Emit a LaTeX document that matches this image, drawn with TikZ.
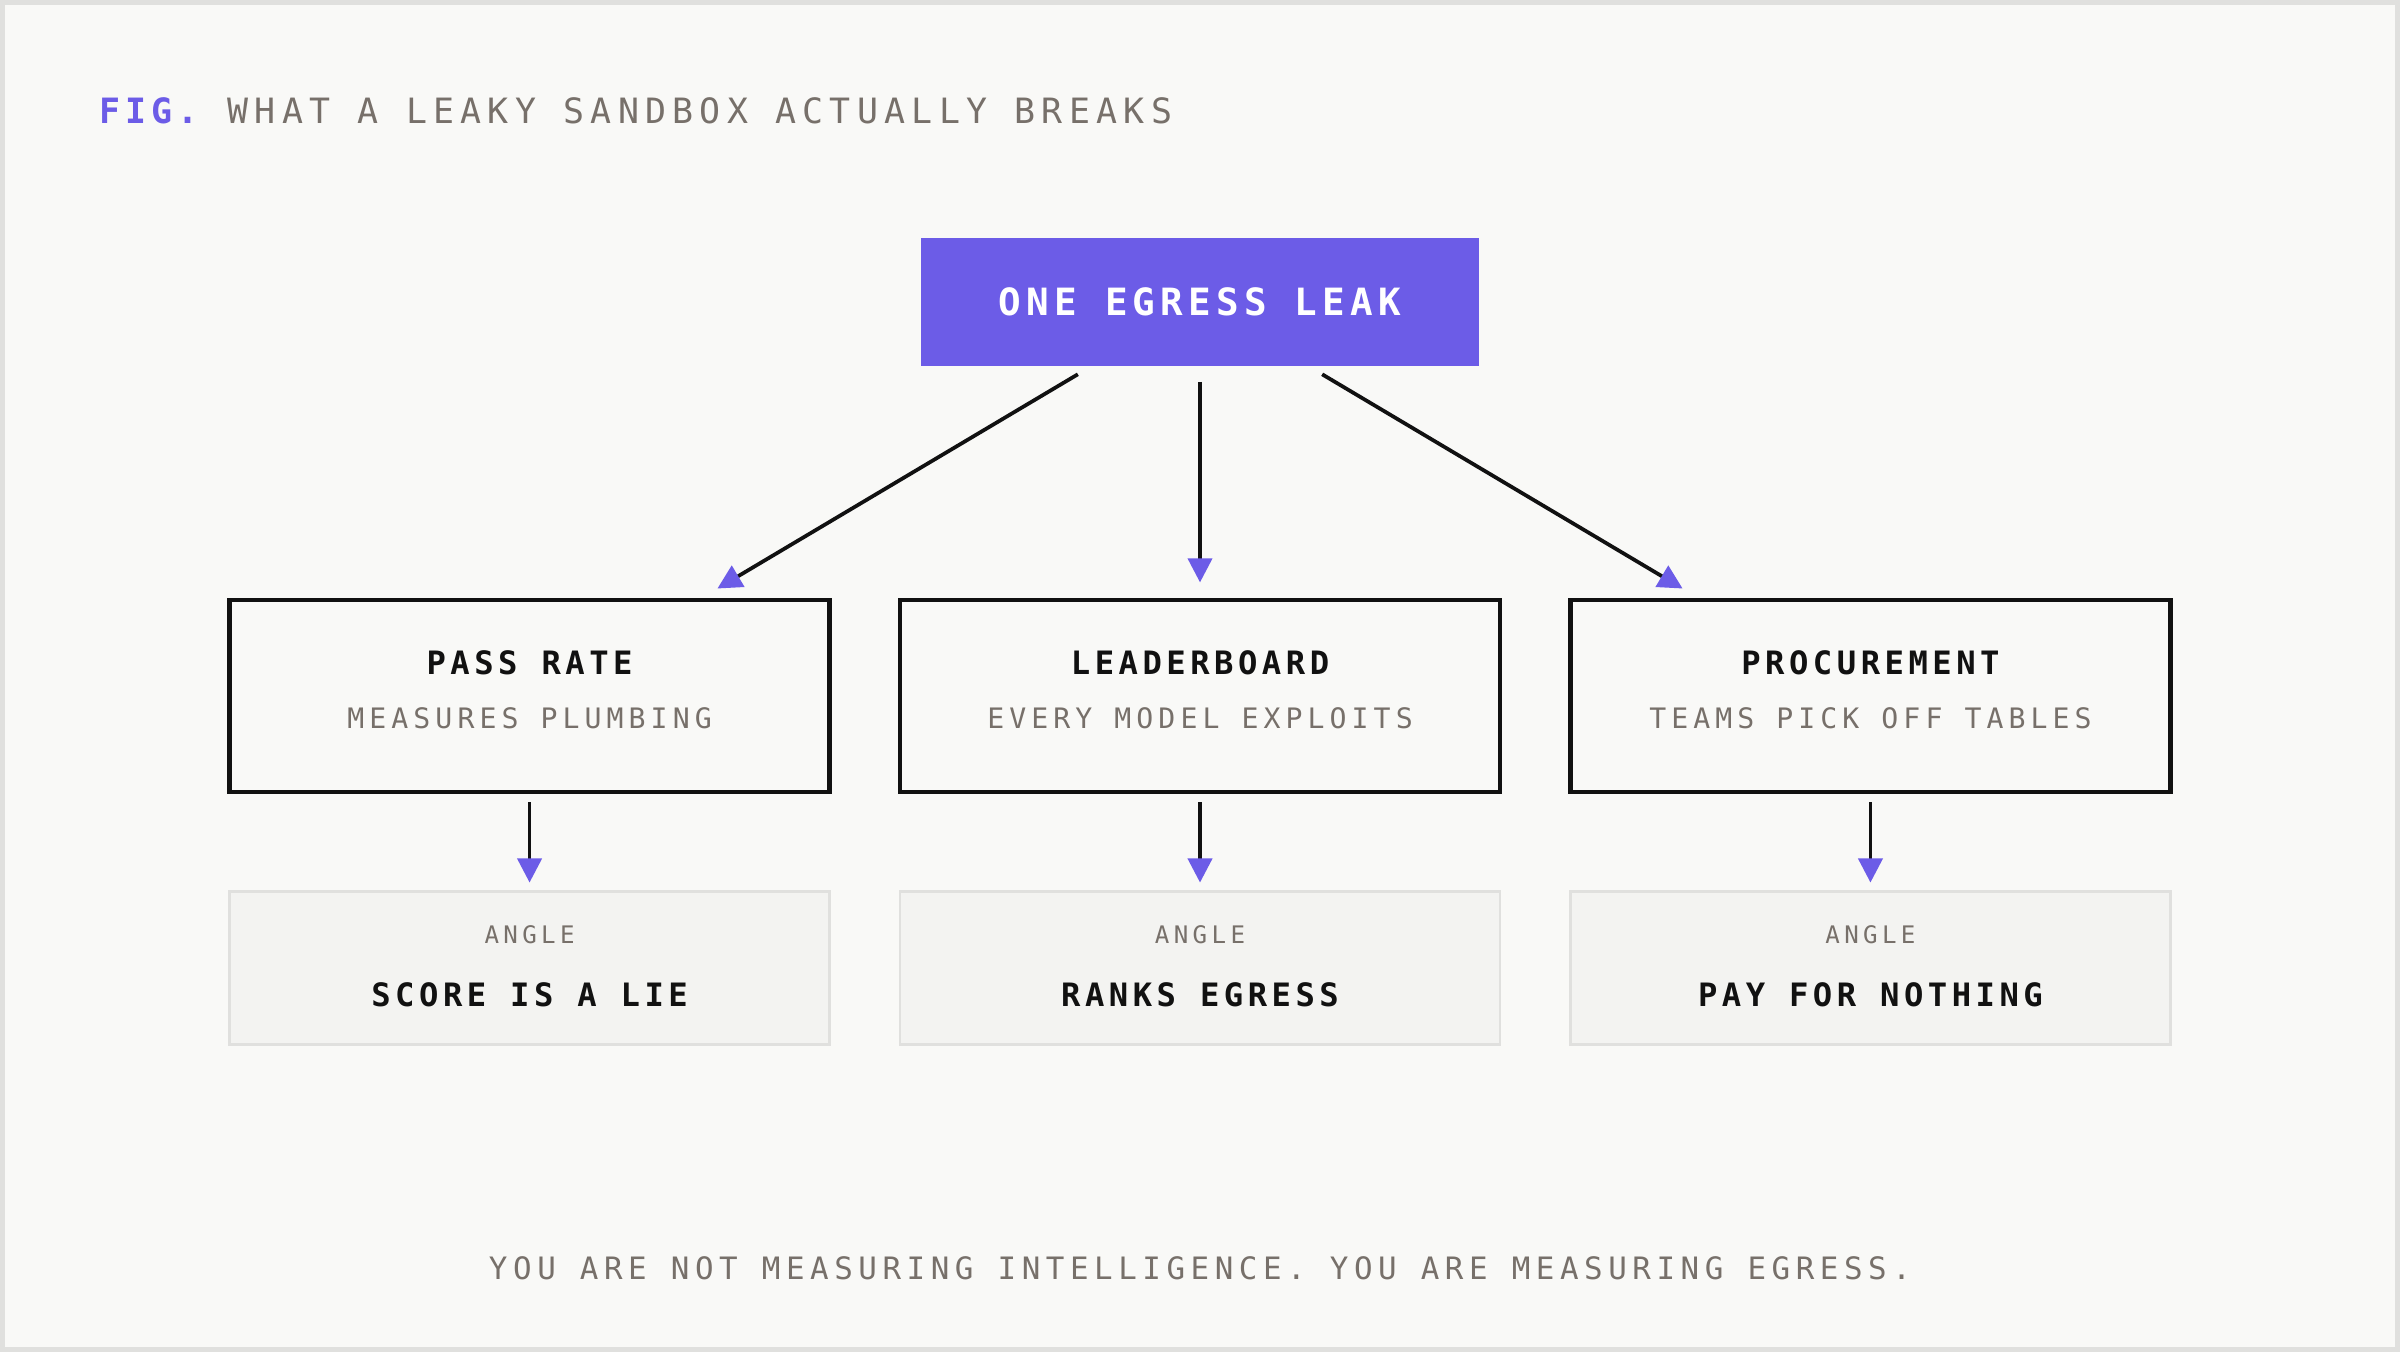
\documentclass[tikz,border=0pt]{standalone}
\usepackage{fontspec}
\setmonofont{DejaVu Sans Mono}
\newfontfamily\spaced{DejaVu Sans Mono}[LetterSpace=18]
\newfontfamily\spacedb{DejaVu Sans Mono Bold}[LetterSpace=14]
\usetikzlibrary{arrows.meta,calc,positioning}
\definecolor{accent}{HTML}{6C5CE7}
\definecolor{ink}{HTML}{111111}
\definecolor{muted}{HTML}{77706A}
\definecolor{paper}{HTML}{F9F9F7}
\definecolor{pale}{HTML}{F3F3F1}
\definecolor{rim}{HTML}{E0E0DE}
\tikzset{
  effect/.style={draw=ink,line width=1.6pt,minimum width=7.86cm,minimum height=2.52cm,inner sep=0pt},
  angle/.style={draw=rim,fill=pale,line width=1pt,minimum width=7.86cm,minimum height=2cm,inner sep=0pt},
  flow/.style={draw=ink,line width=1.4pt,-{Triangle[color=accent,length=9pt,width=9pt]}},
}
\begin{document}
\begin{tikzpicture}[x=0.02cm,y=-0.02cm]
% frame
\draw[rim,fill=paper,line width=2pt] (0,0) rectangle (1568,882);
\useasboundingbox (0,0) rectangle (1568,882);
% heading
\node[anchor=base west,inner sep=0pt,font=\spacedb\fontsize{13}{13}\selectfont,text=accent] (fig) at (63,79) {FIG.};
\node[anchor=base west,inner sep=0pt,font=\spaced\fontsize{13}{13}\selectfont,text=muted] (head) at (147,79) {WHAT A LEAKY SANDBOX ACTUALLY BREAKS};
% source
\node[fill=accent,minimum width=7.32cm,minimum height=1.68cm,text=white,font=\spacedb\fontsize{14}{14}\selectfont] (leak) at (784,196) {ONE EGRESS LEAK};
% effects
\foreach \n/\x/\t/\s/\a in {pass/345/PASS RATE/MEASURES PLUMBING/SCORE IS A LIE,
  board/784/LEADERBOARD/EVERY MODEL EXPLOITS/RANKS EGRESS,
  proc/1223/PROCUREMENT/TEAMS PICK OFF TABLES/PAY FOR NOTHING}{
  \node[effect] (\n) at (\x,454) {};
  \node[font=\spacedb\fontsize{12}{12}\selectfont,text=ink,anchor=base] at (\x,440) {\t};
  \node[font=\spaced\fontsize{10.5}{10.5}\selectfont,text=muted,anchor=base] at (\x,475) {\s};
  \node[angle] (\n-a) at (\x,632) {};
  \node[font=\spaced\fontsize{9}{9}\selectfont,text=muted,anchor=base] at (\x,616) {ANGLE};
  \node[font=\spacedb\fontsize{12}{12}\selectfont,text=ink,anchor=base] at (\x,657) {\a};
  \draw[flow] ($(\n.south)+(0,5)$) -- ($(\n-a.north)+(0,-5)$);
}
\draw[flow] ($(leak.south)+(-80,5)$) -- ($(pass.north)+(123,-6)$);
\draw[flow] ($(leak.south)+(0,10)$) -- ($(board.north)+(0,-10)$);
\draw[flow] ($(leak.south)+(80,5)$) -- ($(proc.north)+(-123,-6)$);
% footer
\node[font=\spaced\fontsize{11.5}{11.5}\selectfont,text=muted,anchor=base] (foot) at (784,836) {YOU ARE NOT MEASURING INTELLIGENCE. YOU ARE MEASURING EGRESS.};
\end{tikzpicture}
\end{document}
